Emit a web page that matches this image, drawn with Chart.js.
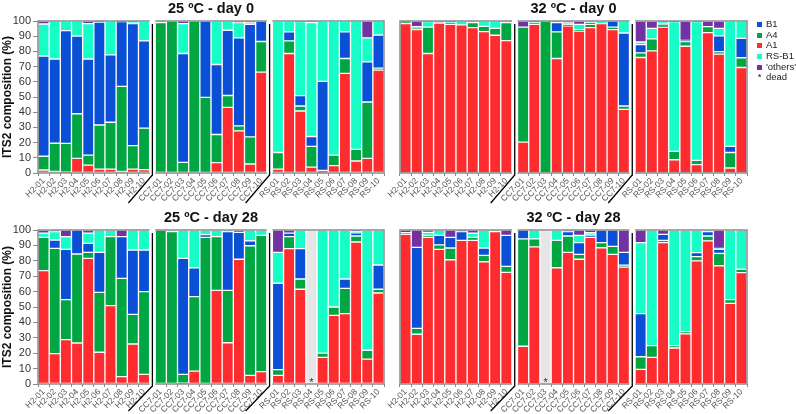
<!DOCTYPE html>
<html>
<head>
<meta charset="utf-8">
<script src="https://cdn.jsdelivr.net/npm/chart.js@4.4.1/dist/chart.umd.min.js"></script>
<style>
  body { margin: 0; background: #fff; width: 796px; height: 414px; position: relative; overflow: hidden;
         font-family: "Liberation Sans", Arial, sans-serif; }
  canvas { position: absolute; }
  #legend { position: absolute; left: 757px; top: 19px; font-size: 9.5px; color: #222; }
  .item { height: 10.7px; line-height: 10.7px; white-space: nowrap; }
  .sw { display: inline-block; width: 5px; height: 5px; margin-right: 4px; vertical-align: 0px; }
</style>
</head>
<body>
<canvas id="p1" width="388" height="208" style="left:0;top:0"></canvas>
<canvas id="p2" width="380" height="208" style="left:370px;top:0"></canvas>
<canvas id="p3" width="388" height="207" style="left:0;top:207px"></canvas>
<canvas id="p4" width="380" height="207" style="left:370px;top:207px"></canvas>
<div id="legend"></div>
<script>
// sample names (x categories)
const samples = ['H2-01','H2-02','H2-03','H2-04','H2-05','H2-06','H2-07','H2-08','H2-09','H2-10',
  'CC7-01','CC7-02','CC7-03','CC7-04','CC7-05','CC7-06','CC7-07','CC7-08','CC7-09','CC7-10',
  'RS-01','RS-02','RS-03','RS-04','RS-05','RS-06','RS-07','RS-08','RS-09','RS-10'];
const yTicks = [0,10,20,30,40,50,60,70,80,90,100];

// 25 ºC - day 0
const A1_25d0   = [2,1,0.5,9.6,5.2,2.6,2.6,1,2.6,2.2, 0,0,0,0,0,6.8,43.2,27.7,5.9,66.4, 2.6,78.6,40.8,3.9,0.5,4.8,65.5,7.9,9.6,67.7];
const A4_25d0   = [9,18.6,19,29.4,6.6,29,30.8,56,15.4,27.3, 99,100,7,100,49.8,18.5,7.8,3.3,17.9,20.1, 10.9,8.3,3.3,13.6,1.2,7,9.8,7.6,37.1,1.3];
const B1_25d0   = [66,55.4,74.2,51,63.2,67.7,44.3,42.6,80.3,57.5, 0,0,71.6,0,50.2,46.1,42.9,57.9,74,13.5, 0,5.9,6.8,6.5,58.6,0,17.5,0,26.4,21.8];
const RSB1_25d0 = [21,25,6.3,10,23.3,0,22.3,0,1,13, 1,0,19.7,0,0,28.6,6.1,10,1.1,0, 86.5,7.2,48.7,75,39.7,88.2,7.2,84.5,15.8,9.2];
const OTH_25d0  = [2,0,0,0,1.7,0.7,0,0.4,0.7,0, 0,0,1.7,0,0,0,0,1.1,1.1,0, 0,0,0.4,1,0,0,0,0,11.1,0];
const dead_25d0 = [];

// 32 ºC - day 0
const A1_32d0   = [98.3,94.3,78.6,98.7,97.8,97.4,95.6,93,90.6,87.1, 20.3,97.8,0,75.3,96.9,93.4,95.6,98.3,94.3,41.9, 76,80.3,96,8.7,83.4,5.5,92.4,78.2,3.3,69.4];
const A4_32d0   = [1.3,1.1,17.4,0,0.9,0,3.4,3.5,4.6,11.9, 75.7,1.2,100,17.5,0,0.9,2.2,0,1.7,2.2, 3,7.9,0.5,5.5,3.1,2.8,3.9,1.7,10.2,6.4];
const B1_32d0   = [0,0,0,0,0,0,0,0,0,0, 0,0,0,6.2,0.5,0,1,0,4,48, 5.5,0,1.5,0,0.8,0,0,10.3,4,12.8];
const RSB1_32d0 = [0,0.9,3.6,0,0.9,2.6,1,3.5,4.8,1, 0,0.5,0,0,1.4,3.5,1.2,1.7,0,7.9, 1.7,7,1.6,85.4,0,91.3,0,5,82.5,11.4];
const OTH_32d0  = [0.4,3.7,0.4,1.3,0.4,0,0,0,0,0, 4,0.5,0,1,1.2,2.2,0,0,0,0, 13.8,4.8,0.4,0.4,12.7,0.4,3.7,4.8,0,0];
const dead_32d0 = [];

// 25 ºC - day 28
const A1_25d28   = [73.6,19.7,28.8,26.6,81.6,20.6,50.9,4.8,26,6.3, 0,0,0.5,8.4,0,60.8,26.8,81,5.6,8, 5.6,87.9,61.5,0,17.3,44.6,45.7,92.2,16.2,59.1];
const A4_25d28   = [21.6,68.4,26,57.8,3.9,38.9,44.8,63.8,19.2,53.7, 100,99,5.8,48.3,95.2,34.9,34,0,84.2,88.5, 3.7,7.8,6.7,0,2.8,5.4,16.4,3.9,5.7,2.4];
const B1_25d28   = [0,5.4,32.6,15.6,5.8,26,0,27.1,41.8,27, 0,0,75.3,18.8,1.8,0,38.1,17.5,3.2,0, 56.1,2.3,19.7,0,0,0,6.1,2,0,15.8];
const RSB1_25d28 = [2.8,5.4,8.3,0,6.7,14.5,4.3,0,13,13, 0,1,18.4,24.5,3,4.3,1.1,0,7,3.5, 20.1,0,12.1,0,79.9,50,31.8,1,78.1,22.7];
const OTH_25d28  = [2,1.1,4.3,0,2,0,0,4.3,0,0, 0,0,0,0,0,0,0,1.5,0,0, 14.5,2,0,0,0,0,0,0.9,0,0];
const dead_25d28 = ['RS-04'];

// 32 ºC - day 28
const A1_32d28   = [97.2,32.3,95.2,87.4,80.7,93.3,93.3,79.4,99,72.5, 24.5,89,0,75.5,85.5,81,95.2,88.5,84.2,76, 9.5,17.3,91.8,23.4,32.5,79.9,92.9,76.8,52.4,72.3];
const A4_32d28   = [0,3.8,1.3,2.9,7.6,0,1.9,4.1,0,3.9, 69.7,5.2,0,17.8,10.6,3.2,0,3.3,5.2,1.1, 8.2,7.6,1.5,1.5,1.5,2.8,3.2,8,2.4,2.2];
const B1_32d28   = [1,52.6,0,6.2,6.9,5.6,0,4.8,0,20.1, 5.8,0,0,0,2.8,7.6,1.5,8.2,10.6,8.4, 28,0,3.9,0,0,2.6,2.8,2.6,0,0];
const RSB1_32d28 = [0,0,2,3.5,0,0,2.8,11.7,1,0, 0,5.8,0,6.7,0,4.7,1.5,0,0,0, 46.1,75.1,0,75.1,66,14.7,1.1,0.6,45.2,25.5];
const OTH_32d28  = [1.8,11.3,1.5,0,4.8,1.1,2,0,0,3.5, 0,0,0,0,1.1,3.5,1.8,0,0,14.5, 8.2,0,2.8,0,0,0,0,12,0,0];
const dead_32d28 = ['CC7-03'];

const colors = { B1: '#0a50d6', A4: '#00a642', A1: '#fe2b2f', RSB1: '#17fdc8', OTH: '#7232a4', dead: '#e6e6e6' };

Chart.defaults.font.family = '"Liberation Sans", Arial, sans-serif';

// bar centres on a linear axis, half a bar of space between the three groups
const xs = samples.map((s, i) => i + 0.5 + Math.floor(i / 10) * 0.5);
const gaps = [[10, 10.5], [20.5, 21]];

const panelDeco = {
  id: 'panelDeco',
  afterDatasetsDraw(chart, args, opts) {
    const { ctx, chartArea: a, scales: { x } } = chart;
    ctx.save();
    ctx.strokeStyle = '#8c8c8c';
    ctx.lineWidth = 1.5;
    ctx.strokeRect(a.left, a.top, a.right - a.left, a.bottom - a.top);

    ctx.fillStyle = '#333';
    ctx.font = '11px "Liberation Sans", Arial';
    ctx.textAlign = 'center';
    ctx.textBaseline = 'alphabetic';
    opts.dead.forEach(s => {
      const i = samples.indexOf(s);
      ctx.fillText('*', x.getPixelForValue(xs[i]), a.bottom + 2);
    });

    gaps.forEach(([g0, g1]) => {
      const p0 = x.getPixelForValue(g0), p1 = x.getPixelForValue(g1);
      ctx.fillStyle = '#fff';
      ctx.fillRect(p0, a.top - 2, p1 - p0, a.bottom - a.top + 4);
      const m = (p0 + p1) / 2;
      ctx.strokeStyle = '#000';
      ctx.lineWidth = 1.3;
      ctx.beginPath();
      ctx.moveTo(m, a.top + 3);
      ctx.lineTo(m, a.bottom + 2);
      ctx.lineTo(m - 24, a.bottom + opts.diag);
      ctx.stroke();
    });

    ctx.fillStyle = '#111';
    ctx.font = 'bold 14.5px "Liberation Sans", Arial';
    ctx.fillText(opts.title, (a.left + a.right) / 2, a.top - 8);
    ctx.restore();
  }
};

function panel(id, title, a1, a4, b1, rsb1, oth, dead, showY, top) {
  const ds = (label, arr, color) => ({
    label, backgroundColor: color,
    data: arr.map((v, i) => ({ x: xs[i], y: v })),
    borderColor: 'rgba(255,255,255,0.5)', borderWidth: 1, borderSkipped: false,
    barPercentage: 1, categoryPercentage: 1
  });
  const deadVals = samples.map(s => dead.includes(s) ? 100 : 0);
  new Chart(document.getElementById(id), {
    type: 'bar',
    data: {
      datasets: [
        ds('dead', deadVals, colors.dead),
        ds('A1', a1, colors.A1),
        ds('A4', a4, colors.A4),
        ds('B1', b1, colors.B1),
        ds('RS-B1', rsb1, colors.RSB1),
        ds("'others'", oth, colors.OTH)
      ]
    },
    options: {
      responsive: false,
      animation: false,
      layout: { padding: { top: top ? 21 : 23, left: showY ? 0 : 30, right: showY ? 4 : 3, bottom: 0 } },
      plugins: {
        legend: { display: false },
        tooltip: { enabled: false },
        panelDeco: { title, dead, diag: top ? 30 : 27 }
      },
      scales: {
        x: {
          type: 'linear', stacked: true, min: 0, max: 31, offset: false,
          afterBuildTicks: ax => { ax.ticks = xs.map(v => ({ value: v })); },
          afterFit: ax => { ax.height = top ? 35 : 30; ax.paddingLeft = 0; ax.paddingRight = 0; },
          ticks: {
            autoSkip: false, minRotation: 45, maxRotation: 45, padding: 0,
            font: { size: 8.5 }, color: '#555',
            callback: (v, i) => samples[i]
          },
          grid: { drawOnChartArea: false, tickLength: 3, color: '#888' },
          border: { display: false }
        },
        y: {
          stacked: true, min: 0, max: 100, display: showY,
          afterBuildTicks: ax => { ax.ticks = yTicks.map(v => ({ value: v })); },
          afterFit: ax => { ax.width = showY ? 38 : 0; ax.paddingTop = 0; ax.paddingBottom = 0; },
          ticks: { autoSkip: false, font: { size: 11 }, color: '#333', padding: 2 },
          grid: { drawOnChartArea: false, tickLength: 5, color: '#888' },
          border: { display: false },
          title: { display: true, text: 'ITS2 composition (%)', font: { size: 12, weight: 'bold' }, color: '#111', padding: 0 }
        }
      }
    },
    plugins: [panelDeco]
  });
}

panel('p1', '25 ºC - day 0', A1_25d0, A4_25d0, B1_25d0, RSB1_25d0, OTH_25d0, dead_25d0, true, true);
panel('p2', '32 ºC - day 0', A1_32d0, A4_32d0, B1_32d0, RSB1_32d0, OTH_32d0, dead_32d0, false, true);
panel('p3', '25 ºC - day 28', A1_25d28, A4_25d28, B1_25d28, RSB1_25d28, OTH_25d28, dead_25d28, true, false);
panel('p4', '32 ºC - day 28', A1_32d28, A4_32d28, B1_32d28, RSB1_32d28, OTH_32d28, dead_32d28, false, false);

// legend
const legendItems = [['B1', colors.B1], ['A4', colors.A4], ['A1', colors.A1], ['RS-B1', colors.RSB1], ["'others'", colors.OTH]];
const lg = document.getElementById('legend');
legendItems.forEach(([t, c]) => {
  lg.insertAdjacentHTML('beforeend', `<div class="item"><span class="sw" style="background:${c}"></span>${t}</div>`);
});
lg.insertAdjacentHTML('beforeend', `<div class="item"><span style="display:inline-block;width:5px;margin-right:4px;text-align:center">*</span>dead</div>`);
</script>
</body>
</html>
